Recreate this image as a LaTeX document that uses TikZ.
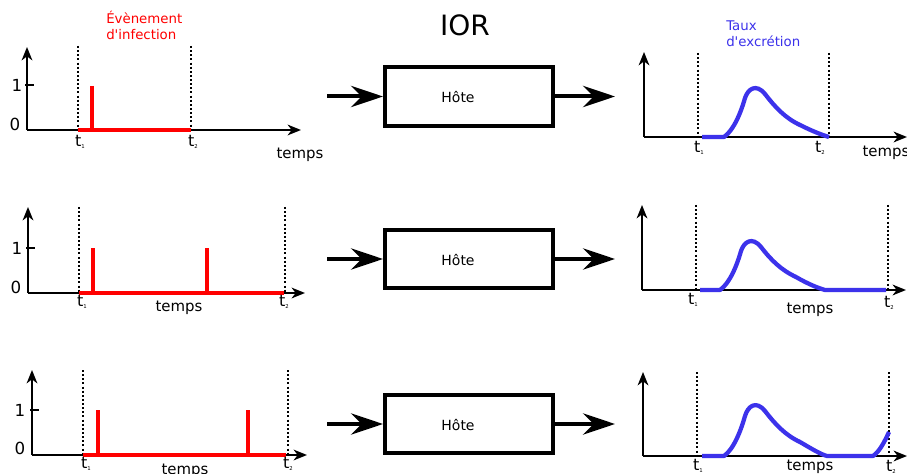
\documentclass[tikz,border=0pt]{standalone}
\usepackage{fontspec}
\setmainfont{DejaVu Sans}
\usetikzlibrary{arrows.meta}
\definecolor{myred}{RGB}{255,0,0}
\definecolor{myblue}{RGB}{60,50,235}
\newcommand{\tlab}[1]{t\raisebox{-0.25ex}{\fontsize{4}{4}\selectfont #1}}
\begin{document}
\begin{tikzpicture}[x=0.75pt,y=-0.75pt,
  axis/.style={line width=1.5pt,-{Stealth[length=10pt,width=8pt,inset=3pt]}},
  tick/.style={line width=1.5pt},
  vdot/.style={line width=1.6pt,dash pattern=on 1.5pt off 1.6pt},
  sig/.style={line width=3pt,myred},
  exc/.style={line width=3.2pt,myblue,line join=round},
  lbl/.style={font=\fontsize{11.2}{13}\selectfont,inner sep=0pt},
  num/.style={font=\fontsize{12.5}{14}\selectfont,inner sep=0pt},
  tl/.style={font=\fontsize{12}{14}\selectfont,inner sep=0pt},
  host/.style={draw,line width=3pt,minimum width=126pt,minimum height=44pt},
  hlab/.style={font=\fontsize{10.5}{12}\selectfont,inner sep=0pt},
  big/.style={line width=3pt,-{Stealth[length=24pt,width=16pt,inset=8pt]}},
  title/.style={font=\fontsize{10}{12}\selectfont,align=left,inner sep=0pt,anchor=north west}]
\useasboundingbox (0,0) rectangle (907,474);
\fill[white] (0,0) rectangle (907,474);

% ---------- titles ----------
\node[title,text=myred] (tinf) at (106,11) {Évènement\\d\textquotesingle infection};
\node[title,text=myblue] (texc) at (726,21) {Taux\\d\textquotesingle excrétion};
\node[font=\fontsize{21}{25}\selectfont] (ior) at (465,25) {IOR};

% ---------- row 1 left ----------
\coordinate (o1) at (27,130);
\draw[axis] (o1) -- (27,47);
\draw[axis] (o1) -- (301,130);
\draw[tick] (25,85) -- (34,85);
\node[num] (one1) at (17,85) {1};
\node[num] (zero1) at (15,124) {0};
\draw[vdot] (78,46) -- (78,130);
\draw[vdot] (191,46) -- (191,130);
\draw[sig] (78,130) -- (191,130);
\draw[sig] (92,86) -- (92,130);
\node[tl] (a1t1) at (80,142) {\tlab{1}};
\node[tl] (a1t2) at (193,142) {\tlab{2}};
\node[lbl] (a1tm) at (300,155) {temps};

% ---------- row 2 left ----------
\coordinate (o2) at (28,293);
\draw[axis] (o2) -- (28,207);
\draw[axis] (o2) -- (305,293);
\draw[tick] (26,248) -- (35,248);
\node[num] (one2) at (17,248) {1};
\node[num] (zero2) at (16,287) {0};
\draw[vdot] (79,207) -- (79,293);
\draw[vdot] (285,207) -- (285,293);
\draw[sig] (79,293) -- (284,293);
\draw[sig] (93,248) -- (93,293);
\draw[sig] (207,248) -- (207,293);
\node[tl] (a2t1) at (82,302) {\tlab{1}};
\node[tl] (a2t2) at (284,302) {\tlab{2}};
\node[lbl] (a2tm) at (179,308) {temps};

% ---------- row 3 left ----------
\coordinate (o3) at (32,455);
\draw[axis] (o3) -- (32,370);
\draw[axis] (o3) -- (307,455);
\draw[tick] (30,410) -- (39,410);
\node[num] (one3) at (20,410) {1};
\node[num] (zero3) at (20,448) {0};
\draw[vdot] (83,370) -- (83,455);
\draw[vdot] (288,370) -- (288,455);
\draw[sig] (83,455) -- (286,455);
\draw[sig] (98,410) -- (98,455);
\draw[sig] (248,410) -- (248,455);
\node[tl] (a3t1) at (86,464) {\tlab{1}};
\node[tl] (a3t2) at (288,464) {\tlab{2}};
\node[lbl] (a3tm) at (185,471) {temps};

% ---------- hosts ----------
\node[host] (h1) at (469,96.5) {};
\node[host] (h2) at (469,259) {};
\node[host] (h3) at (469,424) {};
\node[hlab] (h1l) at (458,97) {Hôte};
\node[hlab] (h2l) at (458,259.5) {Hôte};
\node[hlab] (h3l) at (458,424.5) {Hôte};
\coordinate (i1) at (327,96.5);
\coordinate (i2) at (327,259);
\coordinate (i3) at (327,424);
\coordinate (e1) at (615,96.5);
\coordinate (e2) at (615,259);
\coordinate (e3) at (615,424);
\draw[big] (i1) -- (h1.west);
\draw[big] (i2) -- (h2.west);
\draw[big] (i3) -- (h3.west);
\draw[big] (h1.east) -- (e1);
\draw[big] (h2.east) -- (e2);
\draw[big] (h3.east) -- (e3);

% ---------- row 1 right ----------
\coordinate (p1) at (644,137);
\draw[axis] (p1) -- (644,52);
\draw[axis] (p1) -- (907,137);
\draw[vdot] (698,53) -- (698,137);
\draw[vdot] (829,53) -- (829,137);
\draw[exc] (702,137) -- (724,137) .. controls (734,130) and (741,112) .. (745,98)
  .. controls (748,89) and (756,83) .. (765,94) .. controls (775,107) and (785,118) .. (800,125)
  .. controls (812,131) and (822,135) .. (829,137);
\node[tl] (b1t1) at (699,148) {\tlab{1}};
\node[tl] (b1t2) at (820,148) {\tlab{2}};
\node[lbl] (b1tm) at (886,153) {temps};

% ---------- row 2 right ----------
\coordinate (p2) at (642,290);
\draw[axis] (p2) -- (642,205);
\draw[axis] (p2) -- (906,290);
\draw[vdot] (696,205) -- (696,290);
\draw[vdot] (888,205) -- (888,290);
\draw[exc] (700,290) -- (720,290) .. controls (730,283) and (737,265) .. (741,251)
  .. controls (744,242) and (752,236) .. (761,247) .. controls (771,260) and (781,270) .. (796,277)
  .. controls (808,284) and (818,288) .. (825,290) -- (886,290);
\node[tl] (b2t1) at (693,300) {\tlab{1}};
\node[tl] (b2t2) at (889,303) {\tlab{2}};
\node[lbl] (b2tm) at (810,310) {temps};

% ---------- row 3 right ----------
\coordinate (p3) at (643,456);
\draw[axis] (p3) -- (643,372);
\draw[axis] (p3) -- (907,456);
\draw[vdot] (697,372) -- (697,456);
\draw[vdot] (889,372) -- (889,456);
\draw[exc] (702,456) -- (724,456) .. controls (734,449) and (741,430) .. (745,416)
  .. controls (748,406) and (756,400) .. (765,411) .. controls (775,424) and (785,435) .. (800,442)
  .. controls (812,449) and (820,454) .. (827,456) -- (873,456)
  .. controls (879,452) and (884,443) .. (889,432);
\node[tl] (b3t1) at (698,466) {\tlab{1}};
\node[tl] (b3t2) at (891,467) {\tlab{2}};
\node[lbl] (b3tm) at (810,467) {temps};
\end{tikzpicture}
\end{document}
